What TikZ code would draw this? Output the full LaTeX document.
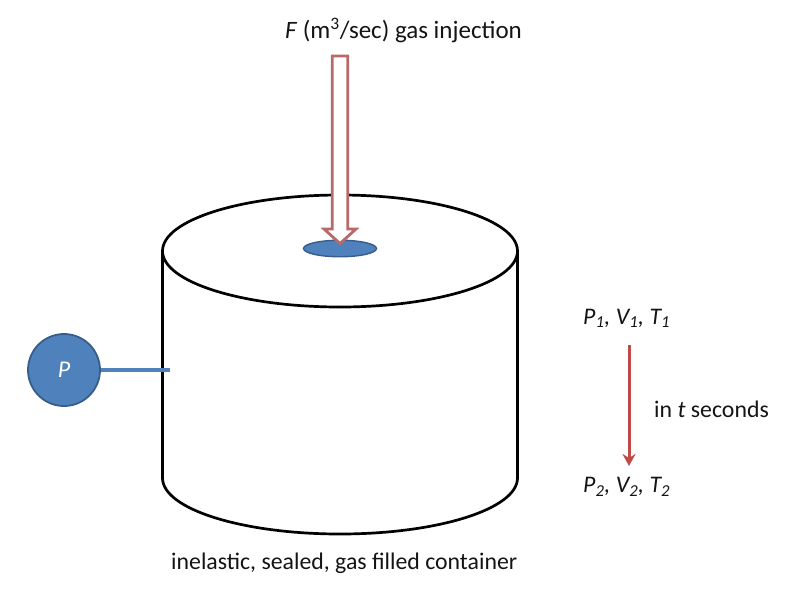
\documentclass[tikz,border=0pt]{standalone}
\usepackage{fontspec}
\setmainfont{Carlito}
\usetikzlibrary{arrows.meta,shapes.geometric}
\definecolor{blueA}{HTML}{4F81BD}
\definecolor{blueB}{HTML}{385D8A}
\definecolor{redA}{HTML}{BE4B48}
\definecolor{redB}{HTML}{B96A68}
\tikzset{
  lbl/.style={font=\fontsize{23.8}{28}\selectfont, text=black!92, inner sep=0pt},
  body/.style={draw=black, line width=2.7pt},
}
\begin{document}
\begin{tikzpicture}[x=1pt,y=-1pt]
\useasboundingbox (0,0) rectangle (800,595);
% container
\node[body, ellipse, minimum width=355pt, minimum height=112pt, inner sep=0pt, outer sep=0pt] (lid) at (340,251) {};
\draw[body] (162.5,251) -- (162.5,478) arc [start angle=180, end angle=360, x radius=177.5pt, y radius=56pt] -- (517.5,251);
% inlet
\node[ellipse, fill=blueA, draw=blueB, line width=1.4pt, minimum width=73pt, minimum height=16.5pt, inner sep=0pt] (inlet) at (340,248.5) {};
% injection arrow
\coordinate (tip) at (340,243.5);
\filldraw[fill=white, draw=redB, line width=2.8pt, line join=miter]
  (332.3,56) -- (347.7,56) -- (347.7,229) -- (356,229) -- (tip) -- (324,229) -- (332.3,229) -- cycle;
\node[lbl, font=\fontsize{25}{29}\selectfont, anchor=base west] (inj) at (285,38.5) {\textit{F} (m\textsuperscript{3}/sec) gas injection};
% gauge
\node[circle, fill=blueA, draw=blueB, line width=1.8pt, minimum size=72pt, inner sep=0pt, text=white, font=\fontsize{24}{28}\selectfont\itshape] (gauge) at (64,370) {P};
\coordinate (wall) at (170,370);
\draw[blueA, line width=3.2pt] (gauge.east) -- (wall);
% states
\node[lbl, anchor=base west] (s1) at (583,324) {\textit{P\textsubscript{1}, V\textsubscript{1}, T\textsubscript{1}}};
\node[lbl, anchor=base west] (s2) at (583,492.5) {\textit{P\textsubscript{2}, V\textsubscript{2}, T\textsubscript{2}}};
\coordinate (a) at (629,345);
\coordinate (b) at (629,466);
\draw[redA, line width=3pt, -{Stealth[length=12pt,width=13pt]}] (a) -- (b);
\node[lbl, anchor=base west] (t) at (654,417) {in \textit{t} seconds};
\node[lbl, anchor=base west] (cap) at (171,569) {inelastic, sealed, gas filled container};
\end{tikzpicture}
\end{document}
